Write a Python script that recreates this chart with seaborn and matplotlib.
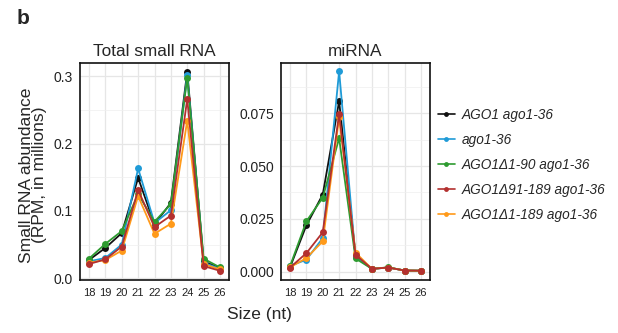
import numpy as np
import pandas as pd
import matplotlib
matplotlib.use("Agg")
import matplotlib.pyplot as plt
from matplotlib.ticker import MultipleLocator, FormatStrFormatter
from matplotlib.lines import Line2D
import seaborn as sns

sns.set_style("white")
plt.rcParams["font.family"] = ["Liberation Sans", "DejaVu Sans"]

sizes = [18, 19, 20, 21, 22, 23, 24, 25, 26]
genotypes = ["AGO1 ago1-36", "ago1-36", "AGO1Δ1-90 ago1-36",
             "AGO1Δ91-189 ago1-36", "AGO1Δ1-189 ago1-36"]
colors = ["#111111", "#1F9BD7", "#2E9B30", "#B3302F", "#FF9A1A"]

total_wt = [0.027, 0.045, 0.067, 0.149, 0.080, 0.112, 0.307, 0.025, 0.015]
total_ago1 = [0.025, 0.030, 0.050, 0.163, 0.082, 0.101, 0.302, 0.023, 0.014]
total_d190 = [0.029, 0.051, 0.070, 0.125, 0.084, 0.110, 0.298, 0.029, 0.016]
total_d91 = [0.021, 0.028, 0.047, 0.131, 0.076, 0.093, 0.266, 0.018, 0.011]
total_d1189 = [0.023, 0.027, 0.041, 0.122, 0.066, 0.081, 0.234, 0.021, 0.013]

mirna_wt = [0.0020, 0.0219, 0.0365, 0.0807, 0.0075, 0.0013, 0.0019, 0.0005, 0.0004]
mirna_ago1 = [0.0027, 0.0056, 0.0159, 0.0949, 0.0070, 0.0013, 0.0019, 0.0005, 0.0004]
mirna_d190 = [0.0025, 0.0238, 0.0350, 0.0632, 0.0062, 0.0013, 0.0020, 0.0005, 0.0004]
mirna_d91 = [0.0019, 0.0087, 0.0186, 0.0747, 0.0080, 0.0013, 0.0019, 0.0005, 0.0004]
mirna_d1189 = [0.0020, 0.0064, 0.0143, 0.0730, 0.0090, 0.0013, 0.0019, 0.0005, 0.0004]

total = [total_wt, total_ago1, total_d190, total_d91, total_d1189]
mirna = [mirna_wt, mirna_ago1, mirna_d190, mirna_d91, mirna_d1189]


def long_table(series):
    rows = []
    for g, vals in zip(genotypes, series):
        for s, v in zip(sizes, vals):
            rows.append({"size": s, "abundance": v, "genotype": g})
    return pd.DataFrame(rows)


df_total = long_table(total)
df_mirna = long_table(mirna)

fig = plt.figure(figsize=(6.18, 3.33), dpi=100)
W, H = 618, 333
ax1 = fig.add_axes([80 / W, 1 - 280 / H, 149 / W, 217 / H])
ax2 = fig.add_axes([281 / W, 1 - 280 / H, 149 / W, 217 / H])

draw_order = [0, 1, 2, 4, 3]
for ax, df in [(ax1, df_total), (ax2, df_mirna)]:
    for i in draw_order:
        sub = df[df["genotype"] == genotypes[i]]
        sns.lineplot(data=sub, x="size", y="abundance", ax=ax, color=colors[i],
                     marker="o", markersize=5, markeredgewidth=0,
                     linewidth=1.3, legend=False, zorder=3)
    ax.set_xlim(17.45, 26.55)
    ax.set_xticks(sizes)
    ax.set_xlabel("")
    ax.set_ylabel("")
    ax.grid(which="major", color="#E6E6E6", linewidth=0.9, zorder=0)
    ax.grid(which="minor", axis="y", color="#EFEFEF", linewidth=0.5, zorder=0)
    for sp in ax.spines.values():
        sp.set_color("#111111")
        sp.set_linewidth(1.2)
    ax.tick_params(axis="x", labelsize=8.0, length=2, width=0.6, color="#333333",
                   pad=4, labelcolor="#222222")
    ax.tick_params(axis="y", labelsize=10, length=2, width=0.6, color="#333333",
                   pad=3, labelcolor="#222222")
    ax.tick_params(which="minor", length=0)
    ax.set_axisbelow(True)

ax1.set_ylim(-0.0027, 0.3197)
ax1.yaxis.set_major_locator(MultipleLocator(0.1))
ax1.yaxis.set_minor_locator(MultipleLocator(0.05))
ax1.yaxis.set_major_formatter(FormatStrFormatter("%.1f"))

ax2.set_ylim(-0.0040, 0.0988)
ax2.yaxis.set_major_locator(MultipleLocator(0.025))
ax2.yaxis.set_minor_locator(MultipleLocator(0.0125))
ax2.yaxis.set_major_formatter(FormatStrFormatter("%.3f"))

ax1.set_title("Total small RNA", fontsize=12.4, pad=5)
ax2.set_title("miRNA", fontsize=12.4, pad=5)

fig.text(33 / W, 1 - 175 / H, "Small RNA abundance\n(RPM, in millions)",
         rotation=90, ha="center", va="center", fontsize=12.6, linespacing=0.9)
fig.text(259 / W, 1 - 314 / H, "Size (nt)", ha="center", va="center", fontsize=12.5)
fig.text(17 / W, 1 - 18 / H, "b", ha="left", va="center", fontsize=15,
         fontweight="bold")

handles = [Line2D([], [], color=c, marker="o", markersize=3.5, markeredgewidth=0,
                  linewidth=1.2) for c in colors]
fig.legend(handles, genotypes, loc="center left",
           bbox_to_anchor=(426 / W, 1 - 165 / H), frameon=False,
           prop={"size": 9.8, "style": "italic"}, handlelength=1.2,
           handletextpad=0.55, labelspacing=0.8)

fig.savefig("out.png", dpi=100)
